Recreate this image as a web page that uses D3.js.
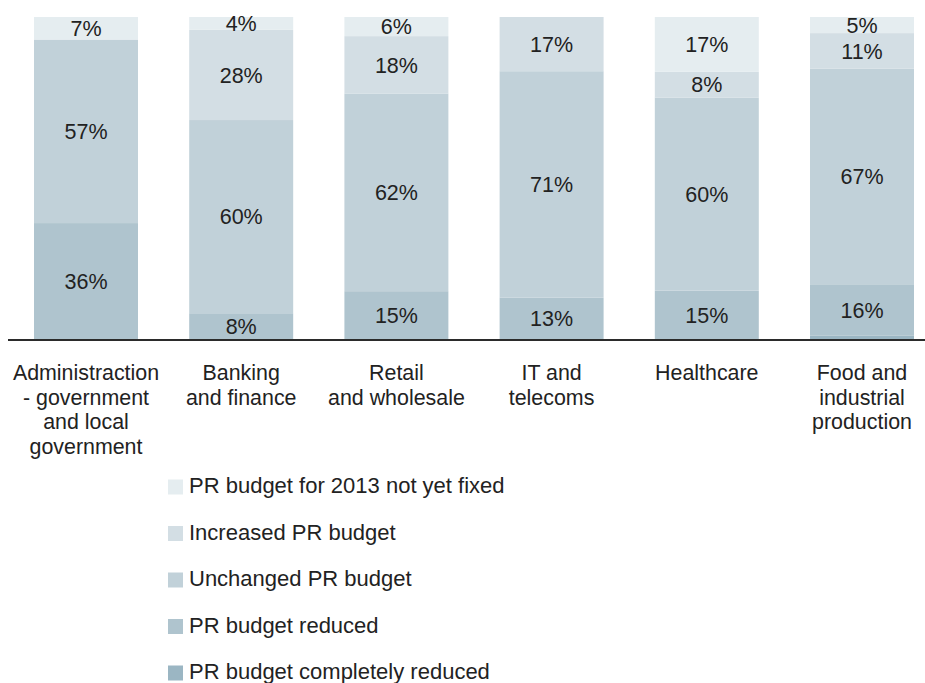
<!DOCTYPE html>
<html>
<head>
<meta charset="utf-8">
<script src="https://cdn.jsdelivr.net/npm/d3@7"></script>
<style>
  html, body { margin: 0; padding: 0; background: #fff; }
  svg { display: block; font-family: "Liberation Sans", Arial, sans-serif; }
</style>
</head>
<body>
<svg id="chart" width="925" height="683"></svg>
<script>
// Sectors (one entry per bar, label split into lines)
const categories = [
  "Administraction|- government|and local|government",
  "Banking|and finance",
  "Retail|and wholesale",
  "IT and|telecoms",
  "Healthcare",
  "Food and|industrial|production"
];

// Share of respondents per answer, in percent (bottom segment first)
const completelyReduced = [0, 0, 0, 0, 0, 1];
const reduced           = [36, 8, 15, 13, 15, 16];
const unchanged         = [57, 60, 62, 71, 60, 67];
const increased         = [0, 28, 18, 17, 8, 11];
const notYetFixed       = [7, 4, 6, 0, 17, 5];

const seriesNames = [
  "PR budget completely reduced",
  "PR budget reduced",
  "Unchanged PR budget",
  "Increased PR budget",
  "PR budget for 2013 not yet fixed"
];
const seriesValues = [completelyReduced, reduced, unchanged, increased, notYetFixed];
const seriesColors = ["#9bb6c3", "#afc4ce", "#c1d1d9", "#d3dee4", "#e5edf0"];

const rows = categories.map((c, i) => {
  const r = { category: c };
  seriesNames.forEach((s, k) => { r[s] = seriesValues[k][i]; });
  return r;
});

const svg = d3.select("#chart");
const W = 925;
const baseY = 339, topY = 17;

const x = d3.scaleBand()
  .domain(categories)
  .range([34, 914])
  .paddingInner(0.33)
  .paddingOuter(0);

const y = d3.scaleLinear().domain([0, 1]).range([baseY, topY]);

const color = d3.scaleOrdinal().domain(seriesNames).range(seriesColors);

// Each bar is scaled to the full height (100 %)
const stacked = d3.stack()
  .keys(seriesNames)
  .offset(d3.stackOffsetExpand)(rows);

const textColor = "#222";

const layer = svg.append("g").selectAll("g")
  .data(stacked)
  .join("g")
  .attr("fill", d => color(d.key));

layer.selectAll("rect")
  .data(d => d.map(p => ({ p, key: d.key })))
  .join("rect")
  .attr("x", d => x(d.p.data.category))
  .attr("width", x.bandwidth())
  .attr("y", d => y(d.p[1]))
  .attr("height", d => y(d.p[0]) - y(d.p[1]));

// Value labels, centred in their segments (small segments stay unlabelled)
const labels = [];
stacked.forEach(s => s.forEach(p => {
  const v = p.data[s.key];
  if (v >= 3) labels.push({ v, cx: x(p.data.category) + x.bandwidth() / 2, cy: (y(p[0]) + y(p[1])) / 2 });
}));

svg.append("g").selectAll("text")
  .data(labels)
  .join("text")
  .attr("x", d => d.cx)
  .attr("y", d => d.cy)
  .attr("dy", "0.36em")
  .attr("text-anchor", "middle")
  .attr("font-size", 21.5)
  .attr("fill", textColor)
  .text(d => d.v + "%");

// Baseline
svg.append("line")
  .attr("x1", 8).attr("x2", W)
  .attr("y1", baseY + 1).attr("y2", baseY + 1)
  .attr("stroke", "#2b2b2b")
  .attr("stroke-width", 2);

// Category labels
const catG = svg.append("g").selectAll("text")
  .data(categories)
  .join("text")
  .attr("x", d => x(d) + x.bandwidth() / 2)
  .attr("y", 380)
  .attr("text-anchor", "middle")
  .attr("font-size", 21.4)
  .attr("fill", textColor);

catG.selectAll("tspan")
  .data(d => d.split("|"))
  .join("tspan")
  .attr("x", function () { return d3.select(this.parentNode).attr("x"); })
  .attr("dy", (d, i) => i === 0 ? 0 : 24.5)
  .text(d => d);

// Legend (top entry = top segment)
const legendItems = seriesNames.slice().reverse();
const legend = svg.append("g").selectAll("g")
  .data(legendItems)
  .join("g")
  .attr("transform", (d, i) => `translate(168, ${479.5 + i * 46.5})`);

legend.append("rect")
  .attr("width", 15).attr("height", 15)
  .attr("fill", d => color(d));

legend.append("text")
  .attr("x", 21)
  .attr("y", 13.5)
  .attr("font-size", 22)
  .attr("fill", textColor)
  .text(d => d);
</script>
</body>
</html>
